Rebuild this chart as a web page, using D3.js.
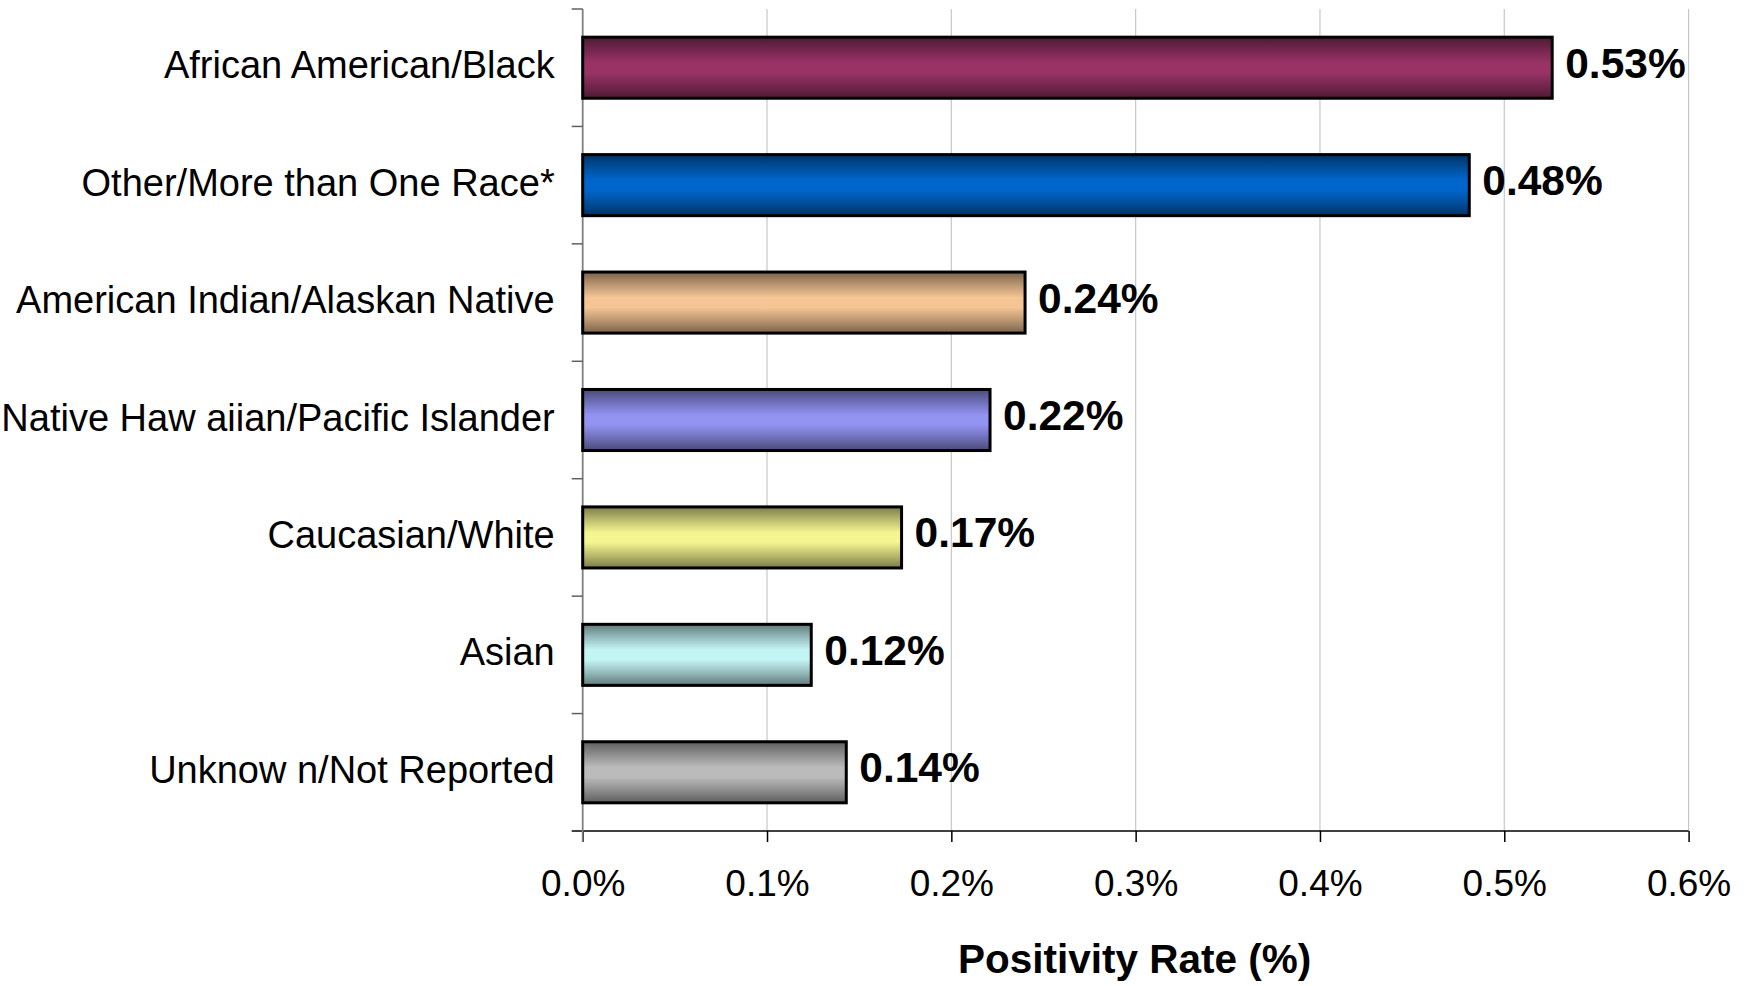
<!DOCTYPE html>
<html>
<head>
<meta charset="utf-8">
<script src="https://cdn.jsdelivr.net/npm/d3@7"></script>
<style>
  html, body { margin: 0; padding: 0; background: #ffffff; }
  svg { display: block; }
  text { font-family: "Liberation Sans", Arial, Helvetica, sans-serif; fill: #000; }
</style>
</head>
<body>
<svg id="chart" width="1749" height="986"></svg>
<script>
// ---- data ----
const categories = [
  "African American/Black",
  "Other/More than One Race*",
  "American Indian/Alaskan Native",
  "Native Haw aiian/Pacific Islander",
  "Caucasian/White",
  "Asian",
  "Unknow n/Not Reported"
];
const values = [0.526, 0.481, 0.240, 0.221, 0.173, 0.124, 0.143];
const barColors = ["#993366", "#0066cc", "#f5c595", "#9393f2", "#f5f591", "#c4f5f5", "#bbbbbb"];
const xTicks = [0, 0.1, 0.2, 0.3, 0.4, 0.5, 0.6];
const xTitle = "Positivity Rate (%)";

// ---- layout ----
const W = 1749, H = 986;
const plot = { left: 582.7, right: 1688.6, top: 9, bottom: 831 };

const svg = d3.select("#chart");

const x = d3.scaleLinear().domain([0, 0.6]).range([plot.left, plot.right]);
const y = d3.scaleBand().domain(categories).range([plot.top, plot.bottom])
  .paddingInner(0.48).paddingOuter(0.24);

// gradients
const defs = svg.append("defs");
barColors.forEach((c, i) => {
  const dark = d3.interpolateRgb(c, "#000")(0.5);
  const mid = d3.interpolateRgb(c, "#000")(0.25);
  const g = defs.append("linearGradient").attr("id", "grad" + i)
    .attr("x1", 0).attr("x2", 0).attr("y1", 0).attr("y2", 1);
  [[0, dark], [0.2, mid], [0.42, c], [0.58, c], [0.8, mid], [1, dark]].forEach(([o, col]) => {
    g.append("stop").attr("offset", o).attr("stop-color", col);
  });
});

// gridlines
svg.append("g").selectAll("line").data(xTicks.filter(d => d > 0)).join("line")
  .attr("x1", d => x(d)).attr("x2", d => x(d))
  .attr("y1", plot.top).attr("y2", plot.bottom)
  .attr("stroke", "#c8c8c8").attr("stroke-width", 1.2);

// x axis
const xAxis = svg.append("g").attr("transform", `translate(0,${plot.bottom})`)
  .call(d3.axisBottom(x).tickValues(xTicks).tickSize(11).tickPadding(28)
    .tickFormat(d => d3.format(".1f")(d) + "%"));
xAxis.select(".domain").remove();
xAxis.selectAll(".tick line").attr("stroke", "#000").attr("stroke-width", 1.5);
xAxis.selectAll(".tick text").attr("font-size", 37).attr("dy", "0.71em")
  .attr("font-family", "'Liberation Sans', Arial, sans-serif").attr("fill", "#000");
svg.append("line").attr("x1", plot.left - 11).attr("x2", plot.right)
  .attr("y1", plot.bottom).attr("y2", plot.bottom)
  .attr("stroke", "#000").attr("stroke-width", 1.5);

// y axis line and boundary ticks
svg.append("line").attr("x1", plot.left).attr("x2", plot.left)
  .attr("y1", plot.top).attr("y2", plot.bottom + 11)
  .attr("stroke", "#808080").attr("stroke-width", 1.8);
const bounds = d3.range(categories.length).map(i => plot.top + i * y.step());
svg.append("g").selectAll("line").data(bounds).join("line")
  .attr("x1", plot.left - 11).attr("x2", plot.left)
  .attr("y1", d => d).attr("y2", d => d)
  .attr("stroke", "#606060").attr("stroke-width", 1.5);

// category labels
svg.append("g").selectAll("text").data(categories).join("text")
  .attr("x", plot.left - 28)
  .attr("y", d => y(d) + y.bandwidth() / 2 + 10.6)
  .attr("text-anchor", "end")
  .attr("font-size", 38)
  .text(d => d);

// bars
const data = categories.map((c, i) => ({ c, v: values[i], i }));
svg.append("g").selectAll("rect").data(data).join("rect")
  .attr("x", x(0))
  .attr("y", d => y(d.c))
  .attr("width", d => x(d.v) - x(0))
  .attr("height", y.bandwidth())
  .attr("fill", d => `url(#grad${d.i})`)
  .attr("stroke", "#000").attr("stroke-width", 3);

// value labels
svg.append("g").selectAll("text").data(data).join("text")
  .attr("x", d => x(d.v) + 13)
  .attr("y", d => y(d.c) + y.bandwidth() / 2 + 10)
  .attr("font-size", 42.5).attr("font-weight", "bold")
  .text(d => d3.format(".2f")(d.v) + "%");

// axis title
svg.append("text")
  .attr("x", (plot.left + plot.right) / 2 - 1)
  .attr("y", 973)
  .attr("text-anchor", "middle")
  .attr("font-size", 40.5).attr("font-weight", "bold")
  .text(xTitle);
</script>
</body>
</html>
